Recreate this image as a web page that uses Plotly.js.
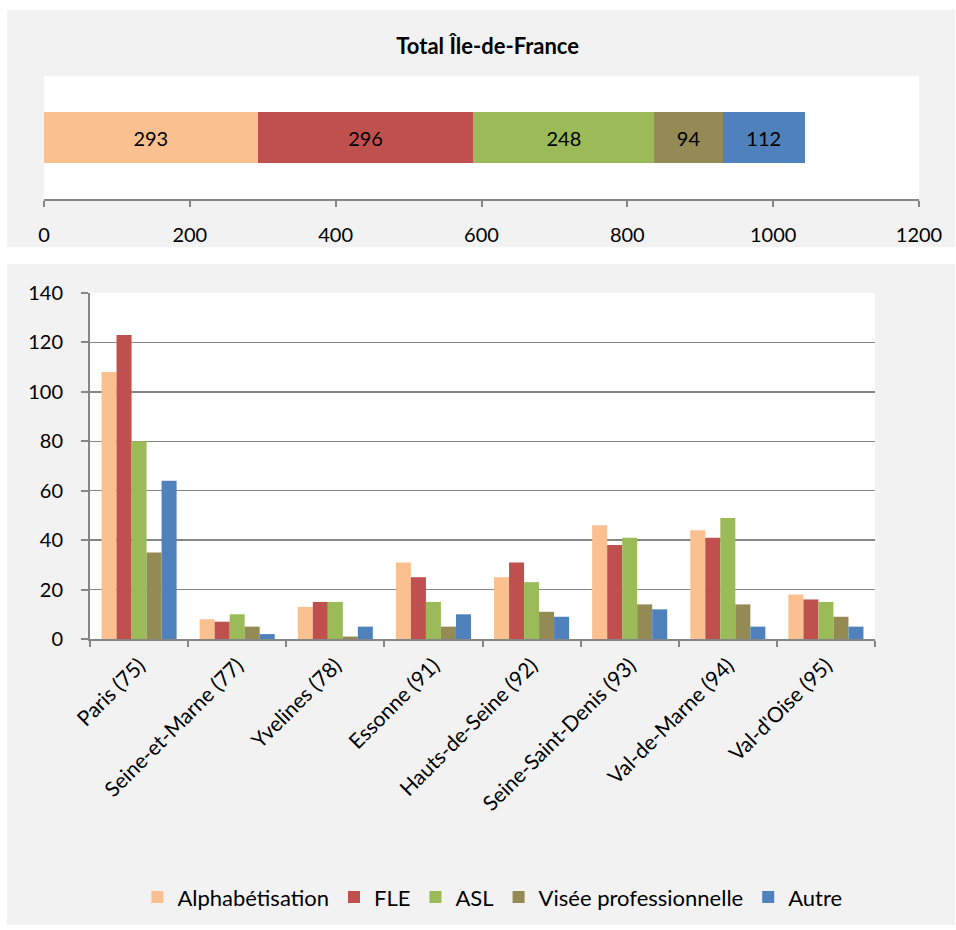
<!DOCTYPE html>
<html>
<head>
<meta charset="utf-8">
<script src="https://cdn.plot.ly/plotly-3.0.1.min.js"></script>
<style>
  html, body { margin: 0; padding: 0; background: #ffffff; width: 956px; height: 930px; overflow: hidden; }
  #top { position: absolute; left: 7px; top: 10px; width: 948px; height: 237px; }
  #bottom { position: absolute; left: 7px; top: 264px; width: 948px; height: 661px; }
</style>
</head>
<body>
<div id="top"></div>
<div id="bottom"></div>
<script>
// ---- Data ----
const departements = ["Paris (75)", "Seine-et-Marne (77)", "Yvelines (78)", "Essonne (91)",
  "Hauts-de-Seine (92)", "Seine-Saint-Denis (93)", "Val-de-Marne (94)", "Val-d'Oise (95)"];
const seriesNames = ["Alphabétisation", "FLE", "ASL", "Visée professionnelle", "Autre"];
const alphabetisation = [108, 8, 13, 31, 25, 46, 44, 18];
const fle = [123, 7, 15, 25, 31, 38, 41, 16];
const asl = [80, 10, 15, 15, 23, 41, 49, 15];
const viseePro = [35, 5, 1, 5, 11, 14, 14, 9];
const autre = [64, 2, 5, 10, 9, 12, 5, 5];
const totalLabel = "Total Île-de-France";
const totals = [293, 296, 248, 94, 112];
const xTicksTop = [0, 200, 400, 600, 800, 1000, 1200];
const yTicksBottom = [0, 20, 40, 60, 80, 100, 120, 140];

const colors = ["#FAC090", "#C0504D", "#9BBB59", "#948A54", "#4F81BD"];
const FONT = "Lato, 'Liberation Sans', sans-serif";
const AX = "#868686";
const config = { staticPlot: true, displayModeBar: false };

// ---- Top chart: stacked horizontal bar ----
const topTraces = totals.map((v, i) => ({
  type: "bar",
  orientation: "h",
  name: seriesNames[i],
  x: [v],
  y: [totalLabel],
  marker: { color: colors[i] },
  text: [String(v)],
  texttemplate: "%{text}",
  textposition: "inside",
  insidetextanchor: "middle",
  textangle: 0,
  textfont: { family: FONT, size: 20, color: "#000000" },
  showlegend: false,
  hoverinfo: "skip"
}));

const topLayout = {
  width: 948, height: 237,
  margin: { l: 37, r: 36, t: 66, b: 48 },
  paper_bgcolor: "#f2f2f2",
  plot_bgcolor: "#ffffff",
  barmode: "stack",
  bargap: 0.59,
  font: { family: FONT, size: 20, color: "#000000" },
  title: {
    text: "<b>" + totalLabel + "</b>",
    font: { family: FONT, size: 22, color: "#000000" },
    x: 0.507, xanchor: "center",
    y: 0.845, yanchor: "middle", yref: "container"
  },
  xaxis: {
    range: [0, 1200],
    tickvals: xTicksTop,
    ticktext: xTicksTop.map(String),
    showgrid: false, zeroline: false,
    showline: true, linecolor: AX, linewidth: 2,
    ticks: "outside", ticklen: 6, tickwidth: 2, tickcolor: AX,
    ticklabelstandoff: 11,
    tickfont: { family: FONT, size: 20, color: "#000000" }
  },
  yaxis: {
    type: "category",
    showticklabels: false, showgrid: false, zeroline: false, showline: false, ticks: ""
  }
};

Plotly.newPlot("top", topTraces, topLayout, config);

// ---- Bottom chart: grouped vertical bars ----
const seriesValues = [alphabetisation, fle, asl, viseePro, autre];
const bottomTraces = seriesValues.map((vals, i) => ({
  type: "bar",
  name: seriesNames[i],
  x: departements,
  y: vals,
  marker: { color: colors[i] },
  hoverinfo: "skip"
}));

const bottomLayout = {
  width: 948, height: 661,
  margin: { l: 83, r: 80, t: 29, b: 286 },
  paper_bgcolor: "#f2f2f2",
  plot_bgcolor: "#ffffff",
  barmode: "group",
  bargap: 0.235,
  bargroupgap: 0,
  font: { family: FONT, size: 20, color: "#000000" },
  xaxis: {
    type: "category",
    tickangle: -45,
    tickson: "boundaries",
    ticks: "outside", ticklen: 6, tickwidth: 2, tickcolor: AX,
    showline: true, linecolor: AX, linewidth: 2,
    showgrid: false, zeroline: false,
    ticklabelstandoff: 4,
    tickfont: { family: FONT, size: 21, color: "#000000" }
  },
  yaxis: {
    range: [0, 140],
    tickvals: yTicksBottom,
    ticktext: yTicksBottom.map(String),
    showgrid: true, gridcolor: AX, gridwidth: 1.5,
    zeroline: false,
    showline: true, linecolor: AX, linewidth: 2,
    ticks: "outside", ticklen: 7, tickwidth: 2, tickcolor: AX,
    ticklabelstandoff: 14,
    tickfont: { family: FONT, size: 20, color: "#000000" }
  },
  showlegend: true,
  legend: {
    orientation: "h",
    xref: "container", yref: "container",
    x: 0.512, xanchor: "center",
    y: 0.042, yanchor: "middle",
    font: { family: FONT, size: 22, color: "#000000" },
    bgcolor: "rgba(0,0,0,0)",
    itemwidth: 30,
    traceorder: "normal"
  }
};

Plotly.newPlot("bottom", bottomTraces, bottomLayout, config);
</script>
</body>
</html>
